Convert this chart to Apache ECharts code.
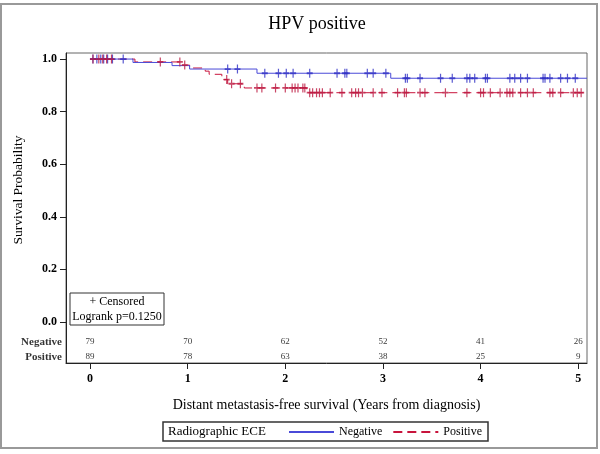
<!DOCTYPE html>
<html>
<head>
<meta charset="utf-8">
<script src="https://cdn.jsdelivr.net/npm/echarts@6/dist/echarts.min.js"></script>
<style>html,body{margin:0;padding:0;background:#fff}#c{width:600px;height:454px}</style>
</head>
<body>
<div id="c"></div>
<script>
// ---- data ----
const groups = ['Negative', 'Positive'];
const xTicks = [0, 1, 2, 3, 4, 5];
const yTicks = [0, 0.2, 0.4, 0.6, 0.8, 1.0];
const negTimes = [0, 0.44, 0.84, 1.02, 1.71, 3.08];
const negSurv  = [1, 0.987, 0.975, 0.962, 0.946, 0.927];
const posTimes = [0, 0.46, 0.93, 1.02, 1.18, 1.22, 1.35, 1.41, 1.58, 2.22];
const posSurv  = [1, 0.989, 0.977, 0.966, 0.954, 0.942, 0.922, 0.906, 0.890, 0.872];
const endTime = 5.09;
const negCensored = [0.03,0.07,0.11,0.14,0.18,0.23,0.34,1.41,1.51,1.79,1.93,2.01,2.08,2.25,2.53,2.61,2.63,2.84,2.90,3.03,3.23,3.25,3.38,3.59,3.71,3.86,3.89,3.94,4.05,4.07,4.30,4.35,4.41,4.48,4.64,4.66,4.71,4.82,4.89,4.97];
const posCensored = [0.03,0.09,0.13,0.17,0.22,0.72,0.92,0.97,1.40,1.45,1.54,1.71,1.76,1.90,2.00,2.07,2.10,2.13,2.18,2.20,2.25,2.28,2.32,2.35,2.38,2.46,2.58,2.68,2.72,2.75,2.79,2.90,2.99,3.15,3.22,3.24,3.38,3.43,3.64,3.86,4.00,4.03,4.10,4.20,4.27,4.30,4.33,4.41,4.48,4.54,4.71,4.74,4.82,4.95,4.99,5.03];
const negAtRisk = [79, 70, 62, 52, 41, 26];
const posAtRisk = [89, 78, 63, 38, 25, 9];
const pText = 'Logrank p=0.1250';

// ---- helpers ----
function stepData(times, surv) {
  const d = times.map((t, i) => [t, surv[i]]);
  d.push([endTime, surv[surv.length - 1]]);
  return d;
}
function survAt(times, surv, t) {
  let s = surv[0];
  for (let i = 0; i < times.length; i++) if (times[i] <= t) s = surv[i];
  return s;
}
const XMIN = -0.246, YMIN = -0.156, YMAX = 1.023;
const rowY = [-0.076, -0.133];
const SERIF = '"Liberation Serif", "DejaVu Serif", serif';
const plus = 'path://M4,0H6V4H10V6H6V10H4V6H0V4H4Z';
const blue = '#4a4ad8', red = '#c8143c';

const chart = echarts.init(document.getElementById('c'), null, {renderer: 'canvas'});
chart.setOption({
  animation: false,
  backgroundColor: '#fff',
  title: {
    text: 'HPV positive', left: 312, top: 10, textAlign: 'center',
    textStyle: {fontFamily: SERIF, fontSize: 18, fontWeight: 'normal', color: '#000'}
  },
  grid: {left: 66, right: 13, top: 53, bottom: 91, show: true, borderColor: '#666', borderWidth: 1},
  legend: {
    data: groups, left: 283, top: 421, itemWidth: 45, itemHeight: 10, itemGap: 10,
    itemStyle: {opacity: 0},
    textStyle: {fontFamily: SERIF, fontSize: 12, color: '#000'}
  },
  xAxis: {
    type: 'value', min: XMIN, max: endTime,
    name: 'Distant metastasis-free survival (Years from diagnosis)',
    nameLocation: 'middle', nameGap: 35,
    nameTextStyle: {fontFamily: SERIF, fontSize: 14, color: '#000'},
    axisLine: {show: true, onZero: false, lineStyle: {color: '#222', width: 1}},
    axisTick: {show: true, customValues: xTicks, length: 6, lineStyle: {color: '#222'}},
    axisLabel: {customValues: xTicks, margin: 10, fontFamily: SERIF, fontSize: 12, color: '#000', fontWeight: 'bold'},
    splitLine: {show: false}
  },
  yAxis: {
    type: 'value', min: YMIN, max: YMAX,
    axisLine: {show: true, onZero: false, lineStyle: {color: '#222', width: 1}},
    axisTick: {show: true, customValues: yTicks, length: 6, lineStyle: {color: '#222'}},
    axisLabel: {customValues: yTicks, margin: 9, fontFamily: SERIF, fontSize: 12, color: '#000', fontWeight: 'bold',
      formatter: v => v.toFixed(1)},
    splitLine: {show: false}
  },
  series: [
    {name: groups[0], type: 'line', step: 'end', symbol: 'none', data: stepData(negTimes, negSurv),
     lineStyle: {color: blue, width: 1}, itemStyle: {color: blue}, z: 3},
    {name: groups[1], type: 'line', step: 'end', symbol: 'none', data: stepData(posTimes, posSurv),
     lineStyle: {color: red, width: 1, type: [9, 5]}, itemStyle: {color: red}, z: 2},
    {name: 'negCens', type: 'scatter', symbol: plus, symbolSize: [6, 9], z: 4,
     data: negCensored.map(t => [t, survAt(negTimes, negSurv, t)]), itemStyle: {color: '#3030c4'}},
    {name: 'posCens', type: 'scatter', symbol: plus, symbolSize: [6, 9], z: 4,
     data: posCensored.map(t => [t, survAt(posTimes, posSurv, t)]), itemStyle: {color: '#bc1840'}},
    {name: 'atRiskNeg', type: 'scatter', symbolSize: 0, silent: true,
     data: xTicks.map((t, i) => [t, rowY[0], negAtRisk[i]]),
     label: {show: true, position: 'inside', formatter: p => p.value[2], fontFamily: SERIF, fontSize: 9, color: '#000'}},
    {name: 'atRiskPos', type: 'scatter', symbolSize: 0, silent: true,
     data: xTicks.map((t, i) => [t, rowY[1], posAtRisk[i]]),
     label: {show: true, position: 'inside', formatter: p => p.value[2], fontFamily: SERIF, fontSize: 9, color: '#000'}},
    {name: 'rowNames', type: 'scatter', symbolSize: 0, silent: true,
     data: groups.map((g, i) => [XMIN, rowY[i], g]),
     label: {show: true, position: 'left', distance: 4, formatter: p => p.value[2], fontFamily: SERIF, fontSize: 11, color: '#000', fontWeight: 'bold'}}
  ],
  graphic: [
    {type: 'rect', shape: {x: 1, y: 4, width: 596, height: 444}, style: {fill: 'none', stroke: '#999', lineWidth: 2}, silent: true},
    {type: 'text', x: 18, y: 190, rotation: Math.PI / 2,
     style: {text: 'Survival Probability', font: '13.5px ' + SERIF, fill: '#000', align: 'center', verticalAlign: 'middle'}},
    {type: 'rect', shape: {x: 70, y: 293, width: 94, height: 32}, style: {fill: '#fff', stroke: '#333', lineWidth: 1}, z: 10},
    {type: 'text', x: 117, y: 302, z: 11,
     style: {text: '+ Censored', font: '12px ' + SERIF, fill: '#000', align: 'center', verticalAlign: 'middle'}},
    {type: 'text', x: 117, y: 317, z: 11,
     style: {text: pText, font: '12px ' + SERIF, fill: '#000', align: 'center', verticalAlign: 'middle'}},
    {type: 'rect', shape: {x: 163, y: 422, width: 325, height: 19}, style: {fill: 'none', stroke: '#333', lineWidth: 1.5}},
    {type: 'text', x: 168, y: 432,
     style: {text: 'Radiographic ECE', font: '13px ' + SERIF, fill: '#000', align: 'left', verticalAlign: 'middle'}}
  ]
});
</script>
</body>
</html>
